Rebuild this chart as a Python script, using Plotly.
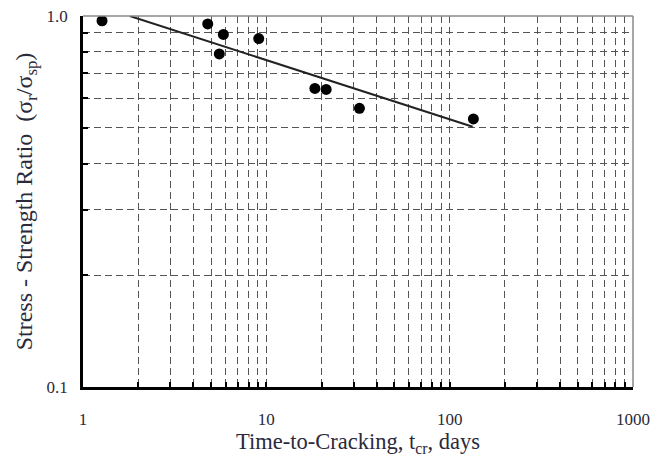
import plotly.graph_objects as go

# Data
time_days = [1.27, 4.79, 5.83, 5.54, 9.09, 18.4, 21.2, 32.2, 134.7]
stress_ratio = [0.971, 0.952, 0.892, 0.790, 0.869, 0.638, 0.634, 0.564, 0.528]

fit_time = [1.80, 133.6]
fit_ratio = [1.0, 0.503]

x_major = [1, 10, 100, 1000]
x_major_labels = ["1", "10", "100", "1000"]
x_minor = [2, 3, 4, 5, 6, 7, 8, 9, 20, 30, 40, 50, 60, 70, 80, 90,
           200, 300, 400, 500, 600, 700, 800, 900]
y_major = [0.1, 1.0]
y_major_labels = ["0.1", "1.0"]
y_minor = [0.2, 0.3, 0.4, 0.5, 0.6, 0.7, 0.8, 0.9]

font_family = "Liberation Serif, Times New Roman, serif"
grid_col = "#555555"
text_col = "#2a2a3a"
dash = "7px,4px"

fig = go.Figure()
fig.add_trace(go.Scatter(x=fit_time, y=fit_ratio, mode="lines",
                         line=dict(color="#222222", width=2), showlegend=False))
fig.add_trace(go.Scatter(x=time_days, y=stress_ratio, mode="markers",
                         marker=dict(color="black", size=11), showlegend=False))

fig.update_layout(
    width=654, height=459,
    margin=dict(l=83, r=21, t=16, b=72),
    paper_bgcolor="white", plot_bgcolor="white",
    font=dict(family=font_family, color=text_col, size=17),
    xaxis=dict(
        type="log", range=[0, 3], automargin=False,
        tickvals=x_major, ticktext=x_major_labels,
        ticks="inside", ticklen=5, tickwidth=1.5, tickcolor="black",
        showline=True, linecolor="black", linewidth=2.5,
        showgrid=True, gridcolor=grid_col, gridwidth=1.4, griddash=dash,
        minor=dict(tickvals=x_minor, ticks="inside", ticklen=5, tickcolor="black",
                   showgrid=True, gridcolor=grid_col, gridwidth=1.4, griddash=dash),
        zeroline=False,
        ticklabelstandoff=15,
        ticklabeloverflow="allow",
        tickfont=dict(size=17),
        title=dict(text="Time-to-Cracking, t<sub>cr</sub>, days",
                   font=dict(size=22.5, family=font_family, color=text_col), standoff=6),
    ),
    yaxis=dict(
        type="log", range=[-1, 0], automargin=False,
        tickvals=y_major, ticktext=y_major_labels,
        ticks="inside", ticklen=5, tickwidth=1.5, tickcolor="black",
        showline=True, linecolor="black", linewidth=2.5,
        showgrid=True, gridcolor=grid_col, gridwidth=1.4, griddash=dash,
        minor=dict(tickvals=y_minor, ticks="inside", ticklen=5, tickcolor="black",
                   showgrid=True, gridcolor=grid_col, gridwidth=1.4, griddash=dash),
        zeroline=False,
        ticklabelstandoff=9,
        ticklabeloverflow="allow",
        tickfont=dict(size=17),
        title=dict(text="Stress - Strength Ratio  (σ<sub>r</sub>/σ<sub>sp</sub>)",
                   font=dict(size=24, family=font_family, color=text_col), standoff=8),
    ),
    shapes=[
        dict(type="line", xref="paper", yref="paper", x0=0, x1=1, y0=1, y1=1,
             line=dict(color="#888888", width=1.5)),
        dict(type="line", xref="paper", yref="paper", x0=1, x1=1, y0=0, y1=1,
             line=dict(color="#888888", width=1.5)),
    ],
)

fig.write_html("out.html", config={"displayModeBar": False},
               post_script="document.body.style.margin='0px';document.body.style.overflow='hidden';")
